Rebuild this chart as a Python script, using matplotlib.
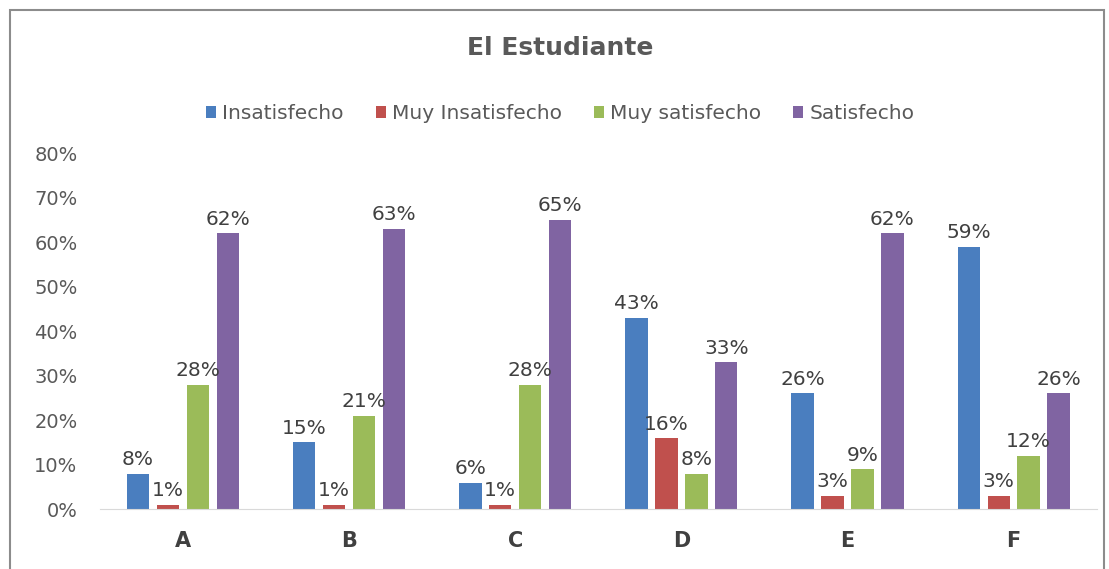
import numpy as np
import matplotlib
matplotlib.use("Agg")
import matplotlib.pyplot as plt
from matplotlib.patches import Rectangle
from matplotlib.ticker import PercentFormatter

plt.rcParams['font.family'] = ['DejaVu Sans']

categories = ['A', 'B', 'C', 'D', 'E', 'F']
series_names = ['Insatisfecho', 'Muy Insatisfecho', 'Muy satisfecho', 'Satisfecho']
insatisfecho = [8, 15, 6, 43, 26, 59]
muy_insatisfecho = [1, 1, 1, 16, 3, 3]
muy_satisfecho = [28, 21, 28, 8, 9, 12]
satisfecho = [62, 63, 65, 33, 62, 26]

# office style colours
colours = ['#4A7EBF', '#C0504D', '#9BBB59', '#8064A2']

fig = plt.figure(figsize=(11.09, 5.69), dpi=100)
ax = fig.add_axes([0.090, 0.105, 0.899, 0.626])

x = np.arange(len(categories))
width = 0.135
pitch = 0.18
all_series = [insatisfecho, muy_insatisfecho, muy_satisfecho, satisfecho]

for i, vals in enumerate(all_series):
    pos = x + (i - 1.5) * pitch
    bars = ax.bar(pos, vals, width, color=colours[i], label=series_names[i])
    for b, v in zip(bars, vals):
        ax.text(b.get_x() + b.get_width() / 2, v + 1.0, f"{v}%",
                ha='center', va='bottom', fontsize=14.5, color='#404040')

ax.set_xlim(-0.5, len(categories) - 0.5)
ax.set_ylim(0, 80)
ax.set_yticks(range(0, 81, 10))
ax.yaxis.set_major_formatter(PercentFormatter(decimals=0))
ax.set_xticks(x)
ax.set_xticklabels(categories, fontsize=15, fontweight='bold', color='#404040')
ax.tick_params(axis='y', labelsize=14, colors='#595959', length=0, pad=16)
ax.tick_params(axis='x', length=0, pad=16)

for s in ['top', 'right', 'left']:
    ax.spines[s].set_visible(False)
ax.spines['bottom'].set_color('#D9D9D9')

fig.text(0.505, 0.915, 'El Estudiante', ha='center', va='center',
         fontsize=18, fontweight='bold', color='#595959')

fig.legend(loc='center', bbox_to_anchor=(0.505, 0.80), ncol=4, frameon=False,
           fontsize=14.5, handlelength=0.5, handleheight=0.5, handletextpad=0.3,
           columnspacing=1.6, labelcolor='#595959')

# chart border
fig.patches.append(Rectangle((10 / 1109, -0.05), 1094 / 1109, 1.05 - 10 / 569,
                             transform=fig.transFigure, fill=False,
                             edgecolor='#8C8C8C', linewidth=1.5))

plt.savefig("out.png", dpi=100)
